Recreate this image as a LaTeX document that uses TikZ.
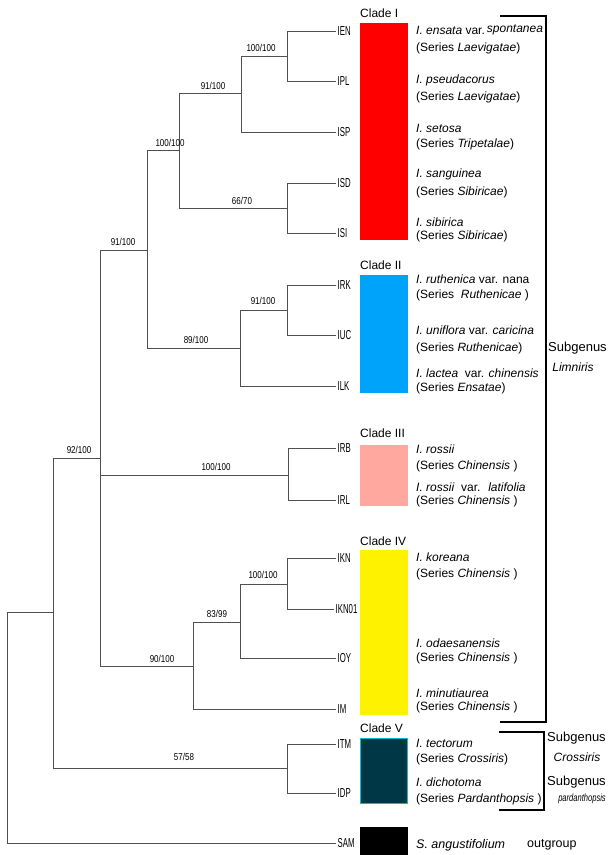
\documentclass[tikz,border=0pt]{standalone}
\usepackage{fontspec}
\setmainfont{Liberation Sans}
\definecolor{cladeblue}{RGB}{0,163,250}
\definecolor{cladepink}{RGB}{255,168,160}
\definecolor{cladeteal}{RGB}{0,55,70}
\definecolor{tealedge}{RGB}{0,190,210}
\definecolor{treegray}{RGB}{80,80,80}
\newcommand{\tiplab}[1]{\scalebox{0.6}[1]{\fontsize{13}{13}\selectfont #1}}
\newcommand{\suplab}[1]{\scalebox{0.8}[1]{\fontsize{10}{10}\selectfont #1}}
\tikzset{
  br/.style={draw=treegray, line width=0.9pt},
  brk/.style={draw=black, line width=1.6pt},
  tip/.style={anchor=west, inner sep=1.5pt},
  sup/.style={anchor=center, inner sep=0pt},
  cladebox/.style={minimum width=48pt, inner sep=0pt, draw=none},
  cladelab/.style={anchor=west, inner sep=0pt, font=\fontsize{12}{12}\selectfont},
  sp/.style={anchor=west, inner sep=0pt, font=\fontsize{12}{12}\selectfont},
  subg/.style={anchor=west, inner sep=0pt, font=\fontsize{13}{13}\selectfont},
}
\begin{document}
\begin{tikzpicture}[x=1pt,y=-1pt]
\useasboundingbox (0,0) rectangle (611,855);
% tips
\node[tip] (tIEN) at (336,31) {\tiplab{IEN}};
\node[tip] (tIPL) at (336,81) {\tiplab{IPL}};
\node[tip] (tISP) at (336,132) {\tiplab{ISP}};
\node[tip] (tISD) at (336,183) {\tiplab{ISD}};
\node[tip] (tISI) at (336,233) {\tiplab{ISI}};
\node[tip] (tIRK) at (336,285) {\tiplab{IRK}};
\node[tip] (tIUC) at (336,335) {\tiplab{IUC}};
\node[tip] (tILK) at (336,386) {\tiplab{ILK}};
\node[tip] (tIRB) at (336,448) {\tiplab{IRB}};
\node[tip] (tIRL) at (336,500) {\tiplab{IRL}};
\node[tip] (tIKN) at (336,558) {\tiplab{IKN}};
\node[tip] (tIKN01) at (334,609) {\tiplab{IKN01}};
\node[tip] (tIOY) at (336,658) {\tiplab{IOY}};
\node[tip] (tIM) at (336,709) {\tiplab{IM}};
\node[tip] (tITM) at (336,744) {\tiplab{ITM}};
\node[tip] (tIDP) at (336,793) {\tiplab{IDP}};
\node[tip] (tSAM) at (336,843) {\tiplab{SAM}};
% internal nodes
\coordinate (a) at (287,56);
\coordinate (b) at (241,93);
\coordinate (c) at (287,208);
\coordinate (d) at (179,150);
\coordinate (e) at (287,310);
\coordinate (f) at (240,348);
\coordinate (g) at (147,250);
\coordinate (h) at (288,475);
\coordinate (i) at (287,584);
\coordinate (j) at (240,622);
\coordinate (k) at (193,666);
\coordinate (l) at (100,458);
\coordinate (m) at (287,768);
\coordinate (n) at (53,612);
\coordinate (root) at (7,612);
% branches
\draw[br] (a) |- (tIEN.west); \draw[br] (a) |- (tIPL.west);
\draw[br] (b) |- (a); \draw[br] (b) |- (tISP.west);
\draw[br] (c) |- (tISD.west); \draw[br] (c) |- (tISI.west);
\draw[br] (d) |- (b); \draw[br] (d) |- (c);
\draw[br] (e) |- (tIRK.west); \draw[br] (e) |- (tIUC.west);
\draw[br] (f) |- (e); \draw[br] (f) |- (tILK.west);
\draw[br] (g) |- (d); \draw[br] (g) |- (f);
\draw[br] (h) |- (tIRB.west); \draw[br] (h) |- (tIRL.west);
\draw[br] (i) |- (tIKN.west); \draw[br] (i) |- (tIKN01.west);
\draw[br] (j) |- (i); \draw[br] (j) |- (tIOY.west);
\draw[br] (k) |- (j); \draw[br] (k) |- (tIM.west);
\draw[br] (l) |- (g); \draw[br] (l) |- (h); \draw[br] (l) |- (k);
\draw[br] (m) |- (tITM.west); \draw[br] (m) |- (tIDP.west);
\draw[br] (n) |- (l); \draw[br] (n) |- (m);
\draw[br] (root) |- (n); \draw[br] (root) |- (tSAM.west);
% support values
\node[sup] (sa) at (261,48) {\suplab{100/100}};
\node[sup] (sb) at (213,86) {\suplab{91/100}};
\node[sup] (sc) at (242,201) {\suplab{66/70}};
\node[sup] (sd) at (170,143) {\suplab{100/100}};
\node[sup] (se) at (263,301) {\suplab{91/100}};
\node[sup] (sf) at (196,340) {\suplab{89/100}};
\node[sup] (sg) at (123,242) {\suplab{91/100}};
\node[sup] (sh) at (216,467) {\suplab{100/100}};
\node[sup] (si) at (263,575) {\suplab{100/100}};
\node[sup] (sj) at (217,614) {\suplab{83/99}};
\node[sup] (sk) at (162,659) {\suplab{90/100}};
\node[sup] (sl) at (79,450) {\suplab{92/100}};
\node[sup] (sm) at (184,757) {\suplab{57/58}};
% clade boxes
\node[cladebox, fill=red, minimum height=217pt] (cI) at (384,131.5) {};
\node[cladebox, fill=cladeblue, minimum height=118pt] (cII) at (384,334) {};
\node[cladebox, fill=cladepink, minimum height=61pt] (cIII) at (384,475.5) {};
\node[cladebox, fill=yellow, minimum height=165pt] (cIV) at (384,632.5) {};
\node[cladebox, fill=cladeteal, draw=tealedge, line width=0.6pt, minimum height=65pt, minimum width=47.4pt] (cV) at (384,770.5) {};
\node[cladebox, fill=black, minimum height=30pt] (cout) at (384,842) {};
\node[cladelab] (lI) at (360,13) {Clade I};
\node[cladelab] (lII) at (360,265) {Clade II};
\node[cladelab] (lIII) at (360,433) {Clade III};
\node[cladelab] (lIV) at (360,541) {Clade IV};
\node[cladelab] (lV) at (360,728) {Clade V};
% species
\node[sp] (n1) at (416,30) {\textit{I. ensata} var.\,\raisebox{1.5pt}{\textit{spontanea}}};
\node[sp] (s1) at (416,48) {(Series \textit{Laevigatae})};
\node[sp] (n2) at (416,80) {\textit{I. pseudacorus}};
\node[sp] (s2) at (416,97) {(Series \textit{Laevigatae})};
\node[sp] (n3) at (416,128) {\textit{I. setosa}};
\node[sp] (s3) at (416,144) {(Series \textit{Tripetalae})};
\node[sp] (n4) at (416,174) {\textit{I. sanguinea}};
\node[sp] (s4) at (416,192) {(Series \textit{Sibiricae})};
\node[sp] (n5) at (416,222) {\textit{I. sibirica}};
\node[sp] (s5) at (416,236) {(Series \textit{Sibiricae})};
\node[sp] (n6) at (416,279) {\textit{I. ruthenica} var. nana};
\node[sp] (s6) at (416,295) {(Series \ \textit{Ruthenicae} )};
\node[sp] (n7) at (416,330) {\textit{I. uniflora} var. \textit{caricina}};
\node[sp] (s7) at (416,348) {(Series \textit{Ruthenicae})};
\node[sp] (n8) at (416,373) {\textit{I. lactea} \ var. \textit{chinensis}};
\node[sp] (s8) at (416,388) {(Series \textit{Ensatae})};
\node[sp] (n9) at (416,449) {\textit{I. rossii}};
\node[sp] (s9) at (416,466) {(Series \textit{Chinensis} )};
\node[sp] (n10) at (416,487) {\textit{I. rossii} \ var. \ \textit{latifolia}};
\node[sp] (s10) at (416,501) {(Series \textit{Chinensis} )};
\node[sp] (n11) at (416,557) {\textit{I. koreana}};
\node[sp] (s11) at (416,574) {(Series \textit{Chinensis} )};
\node[sp] (n12) at (416,643) {\textit{I. odaesanensis}};
\node[sp] (s12) at (416,658) {(Series \textit{Chinensis} )};
\node[sp] (n13) at (416,693) {\textit{I. minutiaurea}};
\node[sp] (s13) at (416,707) {(Series \textit{Chinensis} )};
\node[sp] (n14) at (416,743) {\textit{I. tectorum}};
\node[sp] (s14) at (416,759) {(Series \textit{Crossiris})};
\node[sp] (n15) at (416,782) {\textit{I. dichotoma}};
\node[sp] (s15) at (416,799) {(Series \textit{Pardanthopsis} )};
\node[sp, font=\fontsize{12.5}{12.5}\selectfont] (n16) at (416,845) {\textit{S. angustifolium}};
\node[sp, font=\fontsize{12.5}{12.5}\selectfont] (og) at (527,845) {outgroup};
% brackets
\coordinate (L1) at (500,16); \coordinate (L2) at (546,16);
\coordinate (L3) at (546,722); \coordinate (L4) at (500,722);
\draw[brk] (L1) -- (L2) -- (L3) -- (L4);
\coordinate (C1) at (499,732); \coordinate (C2) at (544,732);
\coordinate (C3) at (544,810); \coordinate (C4) at (499,810);
\draw[brk] (C1) -- (C2) -- (C3) -- (C4);
\node[subg] (g1) at (548,348) {Subgenus};
\node[anchor=center, inner sep=0pt, font=\fontsize{12}{12}\selectfont\itshape] (g1b) at (573,367) {Limniris};
\node[subg] (g2) at (547,738) {Subgenus};
\node[anchor=center, inner sep=0pt, font=\fontsize{12}{12}\selectfont\itshape] (g2b) at (577,757) {Crossiris};
\node[subg] (g3) at (547,782) {Subgenus};
\node[anchor=center, inner sep=0pt] (g3b) at (582,799) {\scalebox{0.72}[1]{\fontsize{10.5}{10.5}\selectfont\itshape pardanthopsis}};
\end{tikzpicture}
\end{document}
